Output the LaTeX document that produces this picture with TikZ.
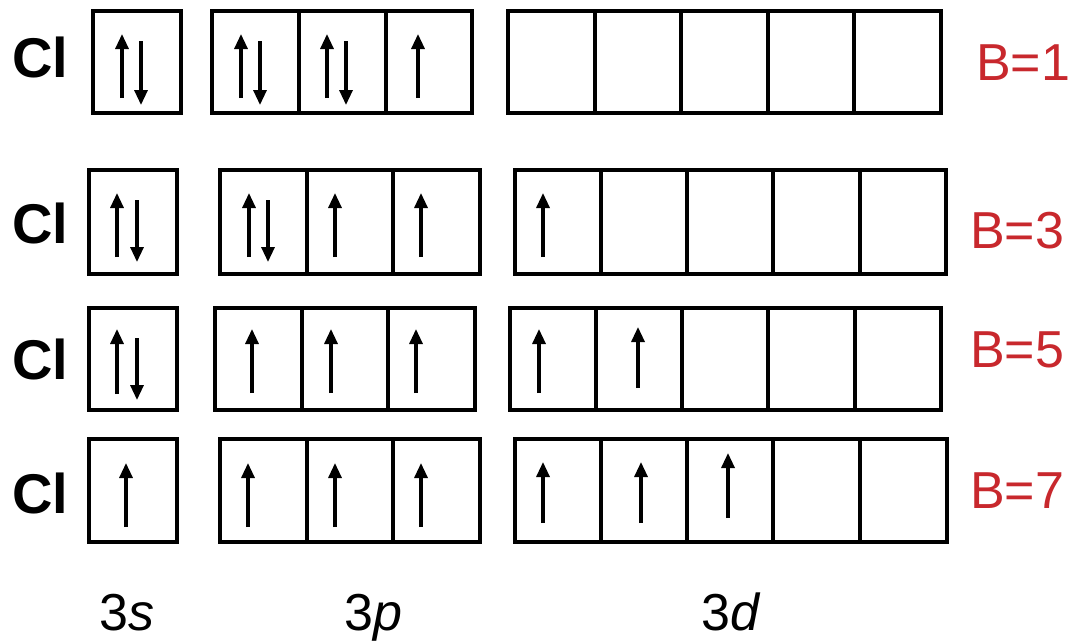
\documentclass[tikz,border=0pt]{standalone}
\usepackage{fontspec}
\setmainfont{Liberation Sans}
\usetikzlibrary{arrows.meta}
\definecolor{bred}{RGB}{200,40,45}
\begin{document}
\begin{tikzpicture}[x=1pt,y=-1pt,
  orbbox/.style={line width=4pt,line join=miter},
  spin/.style={line width=3.2pt,-{Triangle[width=13pt,length=15pt]}},
  elem/.style={font=\fontsize{56}{60}\selectfont\bfseries,anchor=base west,inner sep=0pt},
  blab/.style={font=\fontsize{52}{56}\selectfont,text=bred,anchor=base west,inner sep=0pt},
  sublab/.style={font=\fontsize{52}{56}\selectfont,anchor=base west,inner sep=0pt}]
\useasboundingbox (0,0) rectangle (1076,641);
\fill[white] (0,0) rectangle (1076,641);

% ---------- Row 1 ----------
\node[elem] (cl1) at (12,77) {Cl};
\draw[orbbox] (93,11) rectangle (181,113);
\draw[orbbox] (212,11) rectangle (472,113) (299,11)--(299,113) (386,11)--(386,113);
\draw[orbbox] (508,11) rectangle (941,113)
  foreach \x in {595,681,768,854}{(\x,11)--(\x,113)};
\foreach \x in {122,241,327,418}{\draw[spin] (\x,98)--(\x,34);}
\foreach \x in {141,260,346}{\draw[spin] (\x,41)--(\x,105);}
\node[blab] (b1) at (976,80) {B=1};

% ---------- Row 2 ----------
\node[elem] (cl2) at (12,243) {Cl};
\draw[orbbox] (89,170) rectangle (177,274);
\draw[orbbox] (220,170) rectangle (480,274) (307,170)--(307,274) (393,170)--(393,274);
\draw[orbbox] (515,170) rectangle (946,274)
  foreach \x in {601,687,773,860}{(\x,170)--(\x,274)};
\foreach \x in {117,249,335,421,543}{\draw[spin] (\x,257)--(\x,193);}
\foreach \x in {137,268}{\draw[spin] (\x,200)--(\x,262);}
\node[blab] (b3) at (970,248) {B=3};

% ---------- Row 3 ----------
\node[elem] (cl3) at (12,379) {Cl};
\draw[orbbox] (89,308) rectangle (177,410);
\draw[orbbox] (215,308) rectangle (475,410) (302,308)--(302,410) (388,308)--(388,410);
\draw[orbbox] (510,308) rectangle (941,410)
  foreach \x in {596,682,768,855}{(\x,308)--(\x,410)};
\draw[spin] (117,394)--(117,329);
\draw[spin] (137,338)--(137,400);
\foreach \x in {252,331,416,539}{\draw[spin] (\x,393)--(\x,329);}
\draw[spin] (638,388)--(638,327);
\node[blab] (b5) at (970,367) {B=5};

% ---------- Row 4 ----------
\node[elem] (cl4) at (12,513) {Cl};
\draw[orbbox] (89,439) rectangle (177,542);
\draw[orbbox] (220,439) rectangle (480,542) (307,439)--(307,542) (393,439)--(393,542);
\draw[orbbox] (515,439) rectangle (947,542)
  foreach \x in {601,687,773,860}{(\x,439)--(\x,542)};
\foreach \x in {126,248,335,421}{\draw[spin] (\x,527)--(\x,463);}
\draw[spin] (543,523)--(543,462);
\draw[spin] (641,523)--(641,462);
\draw[spin] (728,518)--(728,453);
\node[blab] (b7) at (970,508) {B=7};

% ---------- Subshell labels ----------
\node[sublab] (l3s) at (99,630) {3\textit{s}};
\node[sublab] (l3p) at (344,630) {3\textit{p}};
\node[sublab] (l3d) at (701,630) {3\textit{d}};
\end{tikzpicture}
\end{document}
